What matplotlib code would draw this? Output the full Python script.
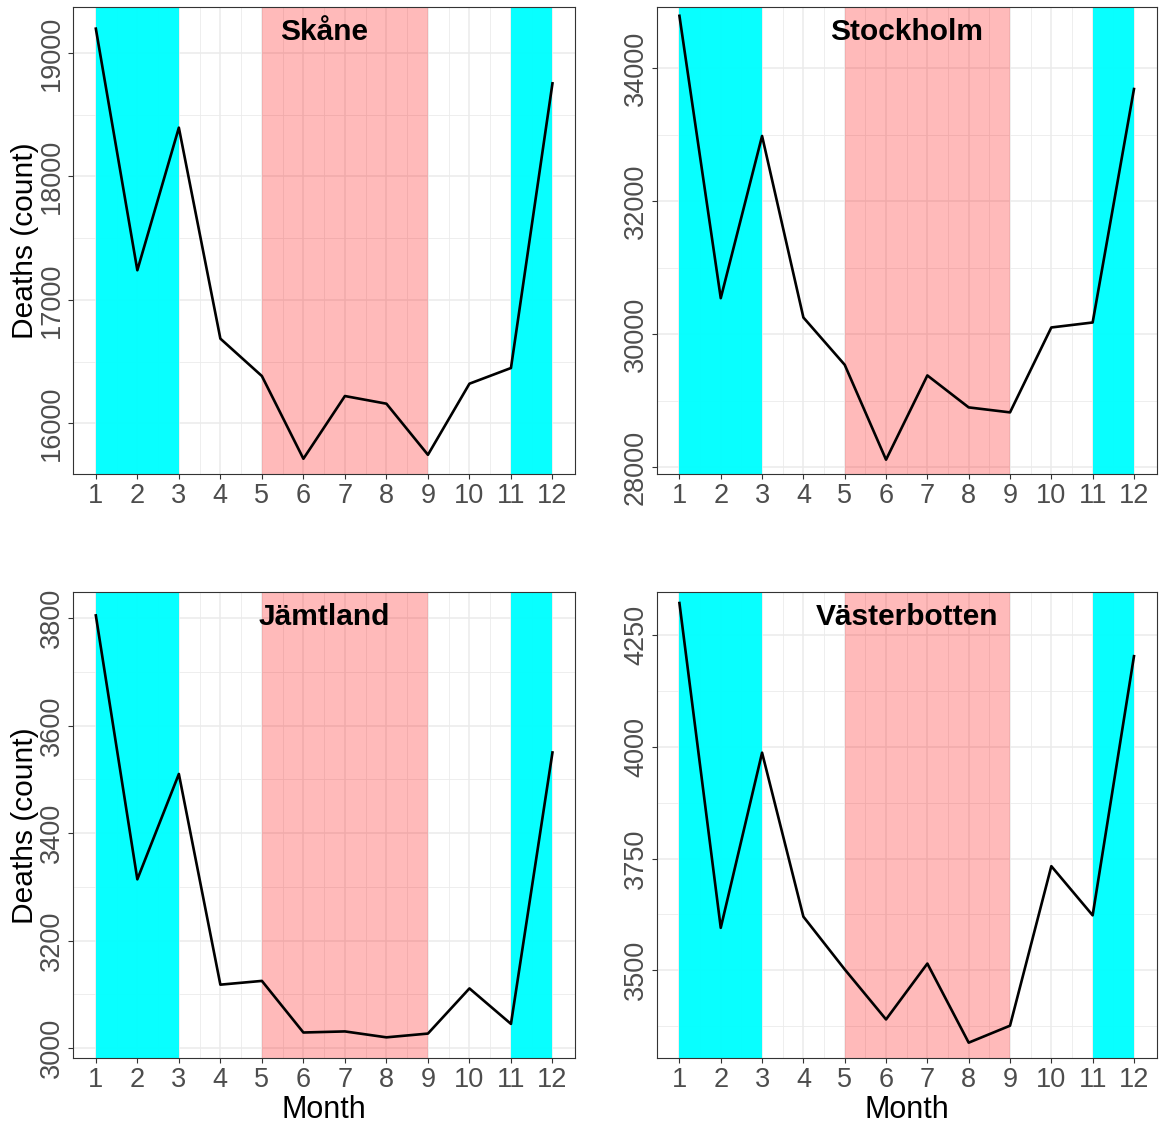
import numpy as np
import matplotlib.pyplot as plt

plt.rcParams["font.family"] = ["Liberation Sans", "DejaVu Sans"]

# monthly death counts per region
months = list(range(1, 13))
skane = [19197, 17240, 18395, 16686, 16383, 15713, 16221, 16159, 15745, 16321, 16448, 18754]
stockholm = [34791, 30541, 32982, 30250, 29538, 28110, 29378, 28897, 28822, 30100, 30175, 33689]
jamtland = [3805, 3314, 3510, 3118, 3125, 3029, 3031, 3020, 3027, 3111, 3045, 3550]
vasterbotten = [4322, 3595, 3987, 3620, 3502, 3390, 3515, 3338, 3376, 3733, 3623, 4203]

regions = ["Skåne", "Stockholm", "Jämtland", "Västerbotten"]
series = [skane, stockholm, jamtland, vasterbotten]
yticks = [
    [16000, 17000, 18000, 19000],
    [28000, 30000, 32000, 34000],
    [3000, 3200, 3400, 3600, 3800],
    [3500, 3750, 4000, 4250],
]
ylims = [(15587, 19370), (27890, 34919), (2981, 3848), (3303, 4346)]

# shaded seasons (month spans)
cold_spans = [(1, 3), (11, 12)]
warm_spans = [(5, 9)]

W, H = 1164, 1126
fig = plt.figure(figsize=(W / 100, H / 100), dpi=100)

boxes = [
    (73, 7.3, 575.3, 474.3),
    (656.7, 7.3, 1156.7, 474.3),
    (73, 592.3, 575.3, 1058.3),
    (656.7, 592.3, 1156.7, 1058.3),
]

for i, (name, vals, ticks) in enumerate(zip(regions, series, yticks)):
    x0, y0, x1, y1 = boxes[i]
    ax = fig.add_axes([x0 / W, 1 - y1 / H, (x1 - x0) / W, (y1 - y0) / H])

    # grid like theme_bw
    ax.set_xticks(months)
    ax.set_xticks(np.arange(1.5, 12, 1), minor=True)
    ax.set_yticks(ticks)
    step = ticks[1] - ticks[0]
    ax.set_yticks(np.arange(ticks[0] - step / 2, ticks[-1] + step, step), minor=True)
    ax.grid(which="major", color="#EBEBEB", linewidth=1.1)
    ax.grid(which="minor", color="#EBEBEB", linewidth=0.6)

    for a, b in cold_spans:
        ax.axvspan(a, b, color="#00FFFF", alpha=0.97, lw=0, zorder=2)
    for a, b in warm_spans:
        ax.axvspan(a, b, color="#FF0000", alpha=0.27, lw=0, zorder=2)

    ax.plot(months, vals, color="black", linewidth=1.9, zorder=3)

    ax.set_ylim(*ylims[i])
    ax.set_xlim(1 - 0.55, 12 + 0.55)

    ax.set_xticklabels([str(m) for m in months])
    ax.set_yticklabels([str(t) for t in ticks], rotation=90, va="center")
    ax.tick_params(which="major", length=3.5, width=0.8, color="#333333",
                   labelsize=19.5, labelcolor="#4D4D4D")
    ax.tick_params(axis="x", pad=3)
    ax.tick_params(axis="y", pad=2)
    ax.tick_params(which="minor", length=0)

    for s in ax.spines.values():
        s.set_color("#333333")
        s.set_linewidth(0.8)
        s.set_zorder(4)

    ax.text(0.5, 0.948, name, transform=ax.transAxes, ha="center", va="center",
            fontsize=21.5, fontweight="bold", color="black", zorder=4)

    if i % 2 == 0:
        ax.set_ylabel("Deaths (count)", fontsize=21.5, labelpad=0)
    if i >= 2:
        ax.set_xlabel("Month", fontsize=22, labelpad=1)

fig.savefig("out.png", dpi=100)
